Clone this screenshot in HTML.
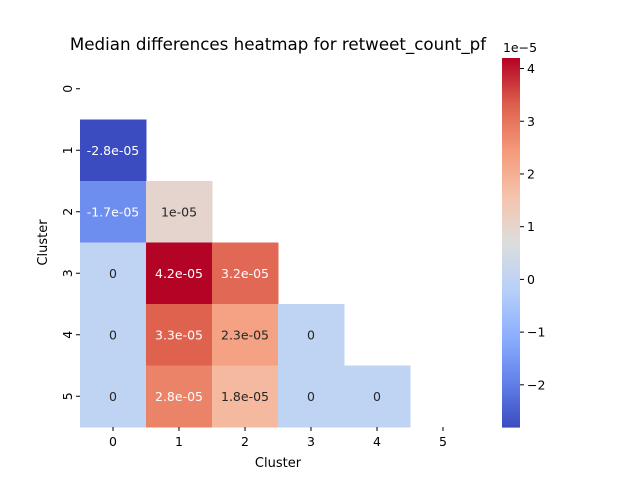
<!DOCTYPE html>
<html><head><meta charset="utf-8"><style>
body{margin:0;background:#fff;}
svg{font-family:"DejaVu Sans","Liberation Sans",sans-serif;}
</style></head><body>
<svg id="chart" width="640" height="480" xmlns="http://www.w3.org/2000/svg">
<rect width="640" height="480" fill="#fff"/>
<text x="278" y="50" font-size="16.7" text-anchor="middle">Median differences heatmap for retweet_count_pf</text>
<g id="cells"></g>
<g id="axes"></g>
<g id="cbar"></g>
</svg>
<script>
const categories=["0","1","2","3","4","5"];
const values=[
[null,null,null,null,null,null],
[-2.8e-5,null,null,null,null,null],
[-1.7e-5,1e-5,null,null,null,null],
[0,4.2e-5,3.2e-5,null,null,null],
[0,3.3e-5,2.3e-5,0,null,null],
[0,2.8e-5,1.8e-5,0,0,null]];
const labels=[
[null,null,null,null,null,null],
["-2.8e-05",null,null,null,null,null],
["-1.7e-05","1e-05",null,null,null,null],
["0","4.2e-05","3.2e-05",null,null,null],
["0","3.3e-05","2.3e-05","0",null,null],
["0","2.8e-05","1.8e-05","0","0",null]];
const cbarTicks=[-2,-1,0,1,2,3,4];
const vmin=-2.8e-5,vmax=4.2e-5;
const NS="http://www.w3.org/2000/svg";
const L=80,R=476,T=58,B=427;
const cw=(R-L)/6,ch=(B-T)/6;
const xPos=i=>L+i*cw, yPos=j=>T+j*ch;
const stops=[[59,76,192],[98,130,234],[141,176,254],[184,208,249],[221,221,221],[245,196,173],[244,154,123],[222,96,77],[180,4,38]];
function cmap(v){let t=(v-vmin)/(vmax-vmin);t=Math.max(0,Math.min(1,t));const p=t*8;const i=Math.min(7,Math.floor(p));const f=p-i;const a=stops[i],b=stops[i+1];return `rgb(${a.map((c,k)=>Math.round(c+(b[k]-c)*f)).join(',')})`;}
function lum(v){const t=(v-vmin)/(vmax-vmin);return t<0.2||t>0.78;}
function mk(tag,attrs,parent){const e=document.createElementNS(NS,tag);for(const k in attrs)e.setAttribute(k,attrs[k]);parent.appendChild(e);return e;}
const cells=document.getElementById('cells');
values.forEach((row,j)=>row.forEach((v,i)=>{if(v===null)return;
const r=mk('rect',{x:xPos(i),y:yPos(j),width:cw+0.5,height:ch+0.5,fill:cmap(v)},cells);


const t=mk('text',{x:xPos(i)+cw/2,y:yPos(j)+ch/2+4.5,'font-size':12.5,'text-anchor':'middle',fill:lum(v)?'#fff':'#262626'},cells);
t.textContent=labels[j][i];


}));
const ax=document.getElementById('axes');
categories.forEach((c,i)=>{
mk('line',{x1:xPos(i)+cw/2,x2:xPos(i)+cw/2,y1:B,y2:B+4,stroke:'#000'},ax);
const t=mk('text',{x:xPos(i)+cw/2,y:B+19,'font-size':12.5,'text-anchor':'middle'},ax);t.textContent=c;


const y=yPos(i)+ch/2;
mk('line',{x1:L-4,x2:L,y1:y,y2:y,stroke:'#000'},ax);
const u=mk('text',{x:0,y:0,'font-size':12.5,'text-anchor':'middle',transform:`translate(${L-8},${y}) rotate(-90)`},ax);u.textContent=c;


});
const xt=mk('text',{x:(L+R)/2,y:467,'font-size':13,'text-anchor':'middle'},ax);xt.textContent='Cluster';


const yt=mk('text',{x:0,y:0,'font-size':13,'text-anchor':'middle',transform:`translate(47,${(T+B)/2}) rotate(-90)`},ax);yt.textContent='Cluster';


const cb=document.getElementById('cbar');
const cx=502,cwid=18;
const cyv=v=>B-(v-vmin)/(vmax-vmin)*(B-T);
for(let k=0;k<200;k++){const v0=vmin+(vmax-vmin)*k/200,v1=vmin+(vmax-vmin)*(k+1)/200;
mk('rect',{x:cx,y:cyv(v1),width:cwid,height:cyv(v0)-cyv(v1)+0.6,fill:cmap((v0+v1)/2)},cb);}
cbarTicks.forEach(v=>{const y=cyv(v*1e-5);
mk('line',{x1:cx+cwid,x2:cx+cwid+4,y1:y,y2:y,stroke:'#000'},cb);
const t=mk('text',{x:cx+cwid+7,y:y+4.5,'font-size':12.5},cb);t.textContent=(v<0?'\u2212':'')+Math.abs(v);


});
const ex=mk('text',{x:cx+cwid,y:52,'font-size':12.5,'text-anchor':'middle'},cb);ex.textContent='1e\u22125';


</script>
</body></html>
